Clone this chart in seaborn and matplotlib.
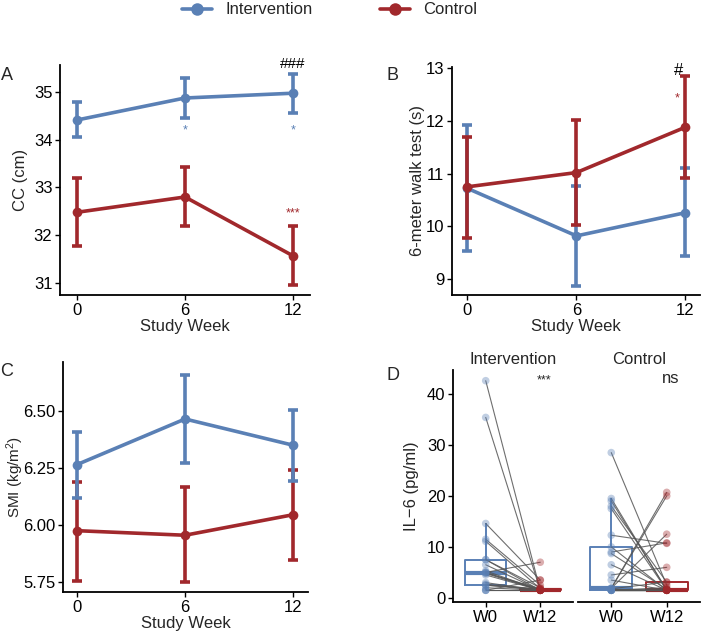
import numpy as np
import pandas as pd
import matplotlib
matplotlib.use("Agg")
import matplotlib.pyplot as plt
from matplotlib.lines import Line2D
import seaborn as sns

# ---- data ----
weeks = [0, 6, 12]
groups = ["Intervention", "Control"]

cc_int = [34.41, 34.87, 34.97]
cc_int_lo = [34.05, 34.45, 34.56]
cc_int_hi = [34.78, 35.28, 35.38]
cc_ctl = [32.48, 32.80, 31.57]
cc_ctl_lo = [31.78, 32.20, 30.95]
cc_ctl_hi = [33.20, 33.42, 32.20]

walk_int = [10.72, 9.82, 10.26]
walk_int_lo = [9.53, 8.87, 9.43]
walk_int_hi = [11.92, 10.77, 11.10]
walk_ctl = [10.75, 11.02, 11.88]
walk_ctl_lo = [9.78, 10.02, 10.92]
walk_ctl_hi = [11.70, 12.02, 12.85]

smi_int = [6.265, 6.465, 6.35]
smi_int_lo = [6.12, 6.27, 6.195]
smi_int_hi = [6.41, 6.66, 6.505]
smi_ctl = [5.975, 5.955, 6.045]
smi_ctl_lo = [5.755, 5.75, 5.845]
smi_ctl_hi = [6.19, 6.165, 6.24]

# IL-6 paired values (W0 -> W12), one entry per subject
il6_int_w0 = [42.6, 35.4, 14.6, 11.5, 11.1, 7.5, 7.5, 6.5, 5.3, 5.0, 5.0,
              4.9, 4.8, 4.5, 3.0, 2.7, 2.5, 2.5, 2.0, 1.5, 1.5, 1.5]
il6_int_w12 = [1.5, 1.5, 3.5, 2.5, 1.8, 1.5, 2.0, 1.5, 1.5, 7.0, 1.5,
               1.8, 1.5, 1.5, 1.5, 1.5, 1.5, 1.8, 1.5, 3.5, 1.5, 1.5]
il6_ctl_w0 = [28.5, 19.5, 19.0, 18.0, 17.5, 12.3, 10.0, 9.0, 8.7, 6.5, 4.5, 3.5,
              1.9, 1.9, 1.9, 1.8, 1.8, 1.5, 1.5, 1.5, 1.5, 1.5, 1.5, 1.5, 1.5]
il6_ctl_w12 = [2.5, 1.5, 1.6, 3.1, 1.5, 10.7, 1.5, 10.8, 1.7, 1.5, 6.0, 1.5,
               20.7, 20.0, 12.5, 1.8, 3.1, 2.0, 1.5, 1.5, 1.5, 1.5, 1.5, 1.5, 1.5]
il6_weeks = ["W0", "W12"]

BLUE = "#5A80B5"
RED = "#A1282C"
pal = {"Intervention": BLUE, "Control": RED}

sns.set_style("ticks")
plt.rcParams['font.family'] = ['Liberation Sans', 'DejaVu Sans']
plt.rcParams['mathtext.default'] = 'regular'
plt.rcParams['axes.linewidth'] = 1.3
plt.rcParams['xtick.major.width'] = 1.0
plt.rcParams['ytick.major.width'] = 1.0
plt.rcParams['xtick.major.size'] = 3.5
plt.rcParams['ytick.major.size'] = 3.5

W, H = 709, 633
fig = plt.figure(figsize=(W / 100, H / 100), dpi=100)


def box(l, t, r, b):
    return [l / W, 1 - b / H, (r - l) / W, (b - t) / H]


def style(ax):
    sns.despine(ax=ax)
    ax.tick_params(labelsize=12, colors="black", pad=2)
    for s in ["left", "bottom"]:
        ax.spines[s].set_color("black")


def line_panel(ax, series, ylabel, ylim, yticks, xlim, ylab_x, fmt="{:g}",
               order=("Intervention", "Control"), ylab_size=12):
    rows = []
    for g, (m, lo, hi) in series.items():
        for w, v in zip(weeks, m):
            rows.append({"week": w, "value": v, "group": g})
    df = pd.DataFrame(rows)
    for i, g in enumerate(order):
        m, lo, hi = series[g]
        m = np.array(m)
        err = [m - np.array(lo), np.array(hi) - m]
        ax.errorbar(weeks, m, yerr=err, fmt="none", ecolor=pal[g], elinewidth=2.6,
                    capsize=3.6, capthick=2.6, zorder=2 + 2 * i)
        sns.lineplot(data=df[df.group == g], x="week", y="value", color=pal[g],
                     marker="o", markersize=7, markeredgewidth=0, lw=2.6,
                     ax=ax, zorder=3 + 2 * i, legend=False)
    ax.set_xlim(*xlim)
    ax.set_ylim(*ylim)
    ax.set_xticks(weeks)
    ax.set_yticks(yticks)
    ax.set_yticklabels([fmt.format(t) for t in yticks])
    ax.set_xlabel("Study Week", fontsize=12, labelpad=1)
    ax.set_ylabel(ylabel, fontsize=ylab_size)
    ax.yaxis.set_label_coords(ylab_x, 0.5)
    style(ax)


# ---- Panel A ----
axA = fig.add_axes(box(60, 65, 310, 295))
line_panel(axA, {"Intervention": (cc_int, cc_int_lo, cc_int_hi),
                 "Control": (cc_ctl, cc_ctl_lo, cc_ctl_hi)},
           "CC (cm)", (30.75, 35.56), [31, 32, 33, 34, 35], (-0.95, 12.95), -0.128)
axA.text(6, 34.2, "*", color=BLUE, fontsize=9, ha="center", va="center")
axA.text(12, 34.2, "*", color=BLUE, fontsize=9, ha="center", va="center")
axA.text(12, 32.45, "***", color=RED, fontsize=9, ha="center", va="center")
axA.text(12, 35.58, "###", color="black", fontsize=11, ha="center", va="center", clip_on=False)

# ---- Panel B ----
axB = fig.add_axes(box(452, 67, 700, 295))
line_panel(axB, {"Intervention": (walk_int, walk_int_lo, walk_int_hi),
                 "Control": (walk_ctl, walk_ctl_lo, walk_ctl_hi)},
           "6-meter walk test (s)", (8.7, 13.02), [9, 10, 11, 12, 13], (-0.85, 12.8), -0.109)
axB.text(11.55, 12.42, "*", color=RED, fontsize=9, ha="center", va="center")
axB.text(11.6, 12.95, "#", color="black", fontsize=12, ha="center", va="center", clip_on=False)

# ---- Panel C ----
axC = fig.add_axes(box(63, 362, 308, 592))
line_panel(axC, {"Intervention": (smi_int, smi_int_lo, smi_int_hi),
                 "Control": (smi_ctl, smi_ctl_lo, smi_ctl_hi)},
           "SMI (kg/m$^2$)", (5.706, 6.715), [5.75, 6.00, 6.25, 6.50], (-0.78, 12.83), -0.15,
           fmt="{:.2f}", order=("Control", "Intervention"), ylab_size=11)

# ---- Panel D ----
axD1 = fig.add_axes(box(453, 370, 573, 602))
axD2 = fig.add_axes(box(578, 370, 700, 602))
wpal = {"W0": BLUE, "W12": RED}
for ax, w0, w12, title, sig in [(axD1, il6_int_w0, il6_int_w12, "Intervention", "***"),
                                (axD2, il6_ctl_w0, il6_ctl_w12, "Control", "ns")]:
    n = len(w0)
    d = pd.DataFrame({
        "subj": list(range(n)) * 2,
        "week": ["W0"] * n + ["W12"] * n,
        "pos": [0] * n + [1] * n,
        "val": list(w0) + list(w12),
    })
    sns.boxplot(data=d, x="week", y="val", hue="week", palette=wpal, order=il6_weeks,
                fill=False, width=0.75, showfliers=False, showcaps=False,
                linewidth=1.4, medianprops={"linewidth": 3}, legend=False, ax=ax)
    sns.lineplot(data=d, x="pos", y="val", units="subj", estimator=None,
                 color="#555555", lw=0.8, alpha=0.85, ax=ax, zorder=3)
    sns.scatterplot(data=d, x="pos", y="val", hue="week", palette=wpal, s=30,
                    alpha=0.38, edgecolor="none", legend=False, ax=ax, zorder=4)
    ax.set_xlim(-0.6, 1.6)
    ax.set_ylim(-0.8, 44.7)
    ax.set_xticks([0, 1])
    ax.set_xticklabels(il6_weeks)
    ax.set_xlabel("")
    ax.text(0.5, 46.8, title, fontsize=12, ha="center", va="center", clip_on=False)
    ax.text(1.07, 42.6 if sig == "***" else 43.0, sig, fontsize=12 if sig == "ns" else 9,
            ha="center", va="center")
    style(ax)

axD1.set_yticks([0, 10, 20, 30, 40])
axD1.set_ylabel("IL\u22126 (pg/ml)", fontsize=12)
axD1.yaxis.set_label_coords(-0.283, 0.5)
axD2.set_yticks([])
axD2.set_ylabel("")
axD2.spines["left"].set_visible(False)

# ---- panel letters ----
for lbl, x, y in [("A", 7, 76), ("B", 393, 76), ("C", 7, 372), ("D", 393, 376)]:
    fig.text(x / W, 1 - y / H, lbl, fontsize=13, ha="center", va="center")

# ---- legend ----
handles = [Line2D([], [], color=pal[g], marker="o", markersize=9, lw=2.6, markeredgewidth=0)
           for g in groups]
fig.legend(handles, groups, loc="center", bbox_to_anchor=(0.465, 1 - 10 / H), ncol=2,
           frameon=False, fontsize=12, handlelength=1.8, columnspacing=4, handletextpad=0.8,
           borderpad=0, borderaxespad=0)

fig.savefig("out.png", dpi=100)
